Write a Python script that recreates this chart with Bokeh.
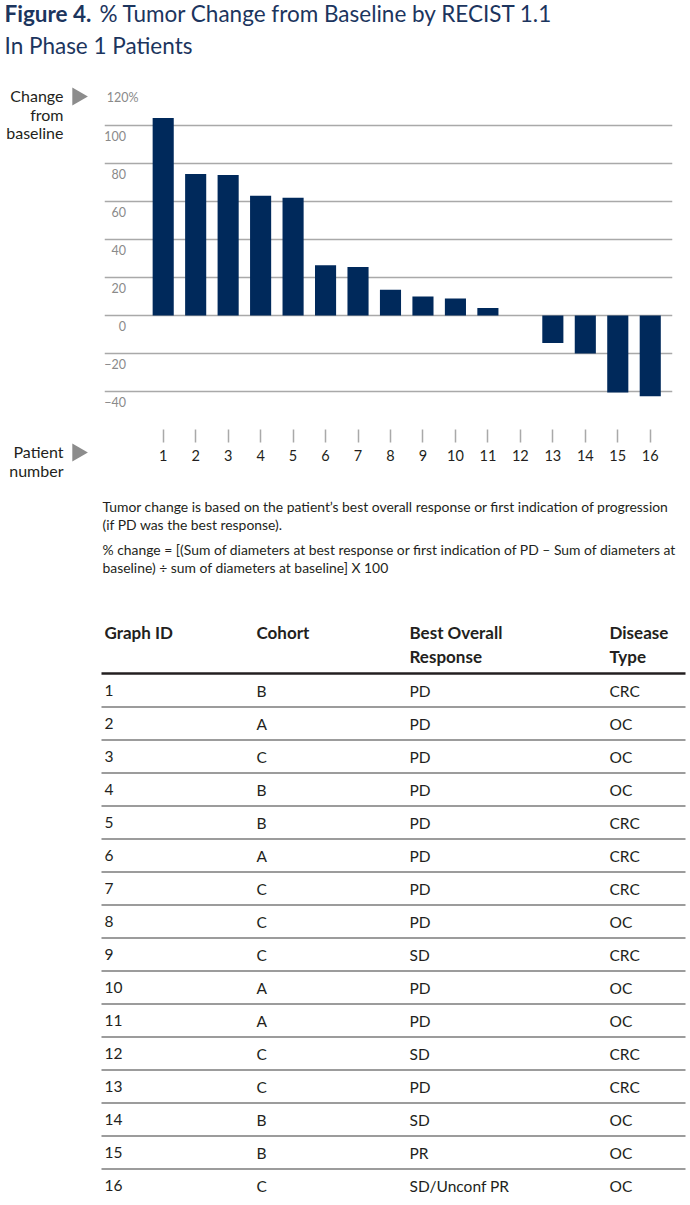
import math
from bokeh.plotting import figure
from bokeh.models import Range1d, FixedTicker, ColumnDataSource
from bokeh.layouts import column, row
from bokeh.embed import file_html
from bokeh.resources import INLINE
from bokeh.core.properties import value

# ---------------- data ----------------
patients = list(range(1, 17))
pct_change = [104, 74.5, 74, 63, 62, 26.5, 25.5, 13.5, 10, 9, 4, 0,
              -14.5, -20, -40.5, -42.5]
grid_values = [-60, -40, -20, 0, 20, 40, 60, 80, 100, 120]
y_label_values = [120, 100, 80, 60, 40, 20, 0, -20, -40]
y_label_texts = ["120%", "100", "80", "60", "40", "20", "0", "\u221220", "\u221240"]

title_bold = "Figure 4."
title_rest = "% Tumor Change from Baseline by RECIST 1.1"
title_line2 = "In Phase 1 Patients"
y_caption = ["Change", "from", "baseline"]
x_caption = ["Patient", "number"]
notes = [
    "Tumor change is based on the patient\u2019s best overall response or first indication of progression",
    "(if PD was the best response).",
    "% change = [(Sum of diameters at best response or first indication of PD \u2013 Sum of diameters at",
    "baseline) \u00f7 sum of diameters at baseline] X 100",
]
table_headers = [["Graph ID"], ["Cohort"], ["Best Overall", "Response"], ["Disease", "Type"]]
graph_ids = [str(i) for i in patients]
cohort = ["B", "A", "C", "B", "B", "A", "C", "C", "C", "A", "A", "C", "C", "B", "B", "C"]
best_response = ["PD", "PD", "PD", "PD", "PD", "PD", "PD", "PD", "SD", "PD", "PD", "SD",
                 "PD", "SD", "PR", "SD/Unconf PR"]
disease_type = ["CRC", "OC", "OC", "OC", "CRC", "CRC", "CRC", "OC", "CRC", "OC", "OC", "CRC",
                "CRC", "OC", "OC", "OC"]

# ---------------- styles ----------------
FONT = "Lato"
NAVY = "#00295b"
TITLE_C = "#1c355e"
TEXT_C = "#231f20"
GRID_C = "#a9a9a9"
TICKLAB_C = "#8a8a8a"
ARROW_C = "#8c8c8c"
PAGE_W = 690
FRAME_TOP, FRAME_BOT = 87, 429     # page y of the chart frame
CHART_TOP, CHART_BOT = 80, 480     # page y of the chart row


def canvas(x0, x1, ytop, ybot):
    p = figure(width=x1 - x0, height=ybot - ytop,
               x_range=Range1d(x0, x1), y_range=Range1d(ybot, ytop),
               x_axis_type=None, y_axis_type=None, min_border=0,
               outline_line_color=None, toolbar_location=None,
               output_backend="svg")
    p.background_fill_color = "white"
    p.border_fill_color = "white"
    return p


def txt(p, x, y, s, size, color=TEXT_C, align="left", baseline="middle", style="normal"):
    p.text(x=[x], y=[y], text=[s], text_font=value(FONT), text_font_size=f"{size}px",
           text_color=color, text_align=align, text_baseline=baseline,
           text_font_style=style)


# ---------------- header ----------------
head = canvas(0, PAGE_W, 0, CHART_TOP)
txt(head, 4, 13, title_bold, 22.5, TITLE_C, style="bold")
txt(head, 99, 13, title_rest, 22.5, TITLE_C)
txt(head, 4, 45, title_line2, 22.5, TITLE_C)

# ---------------- left captions ----------------
left = canvas(0, 104, CHART_TOP, CHART_BOT)
for i, s in enumerate(y_caption):
    txt(left, 63, 95 + i * 18.5, s, 16, align="right")
for i, s in enumerate(x_caption):
    txt(left, 63, 451 + i * 18.5, s, 16, align="right")
left.scatter(x=[77, 77], y=[96, 452], marker="triangle", size=18,
             angle=-math.pi / 2, fill_color=ARROW_C, line_color=None)

# ---------------- bar chart ----------------
frame_w = 568
px_per_unit = 32.47
x_start = 1 - 58.7 / px_per_unit
x_end = x_start + frame_w / px_per_unit

chart = figure(width=PAGE_W - 104, height=CHART_BOT - CHART_TOP,
               x_range=Range1d(x_start, x_end),
               y_range=Range1d(-60, 120), toolbar_location=None,
               output_backend="svg", min_border_left=0,
               min_border_right=PAGE_W - 104 - frame_w,
               min_border_top=FRAME_TOP - CHART_TOP,
               min_border_bottom=CHART_BOT - FRAME_BOT, outline_line_color=None)
chart.background_fill_color = "white"
chart.border_fill_color = "white"
chart.yaxis.visible = False
chart.xgrid.visible = False
chart.ygrid.ticker = FixedTicker(ticks=grid_values)
chart.ygrid.grid_line_color = GRID_C
chart.ygrid.grid_line_width = 1.5

chart.vbar(x=patients, top=pct_change, bottom=0, width=0.65,
           fill_color=NAVY, line_color=None)

xa = chart.xaxis[0]
xa.ticker = FixedTicker(ticks=patients)
xa.axis_line_color = None
xa.major_tick_in = 0
xa.major_tick_out = 13
xa.major_tick_line_color = GRID_C
xa.major_tick_line_width = 1.5
xa.minor_tick_line_color = None
xa.major_label_standoff = 7
xa.major_label_text_font = FONT
xa.major_label_text_font_size = "14.5px"
xa.major_label_text_color = TEXT_C

lab_x = x_start + 21.5 / px_per_unit
lab_src = ColumnDataSource(dict(
    x=[lab_x] * len(y_label_values), y=y_label_values, text=y_label_texts,
    xo=[12.5 if t.endswith("%") else 0 for t in y_label_texts]))
chart.text(x="x", y="y", text="text", x_offset="xo", y_offset=10, source=lab_src,
           text_font=value(FONT), text_font_size="12.5px", text_color=TICKLAB_C,
           text_align="right", text_baseline="middle")

# ---------------- notes ----------------
notes_p = canvas(0, PAGE_W, CHART_BOT, 600)
for s, y in zip(notes, [506, 524, 549, 567]):
    txt(notes_p, 102, y, s, 13.9)

# ---------------- table ----------------
table = canvas(0, PAGE_W, 600, 1203)
col_x = [104, 256, 409, 609]
for cx, hdr in zip(col_x, table_headers):
    for j, s in enumerate(hdr):
        txt(table, cx, 632 + j * 24, s, 17, style="bold")
table.segment(x0=[101], y0=[673], x1=[685], y1=[673], line_color=TEXT_C, line_width=2.5)

row_y = [690 + 33 * i for i in range(len(graph_ids))]
tsrc = ColumnDataSource(dict(y=row_y, gid=graph_ids, coh=cohort, resp=best_response,
                             dis=disease_type))
for cx, field in zip(col_x, ["gid", "coh", "resp", "dis"]):
    table.text(x=cx, y="y", text=field, source=tsrc, text_font=value(FONT),
               text_font_size="15.5px", text_color=TEXT_C, text_align="left",
               text_baseline="middle")
sep_y = [y + 16.5 for y in row_y[:-1]]
table.segment(x0=[101] * len(sep_y), y0=sep_y, x1=[685] * len(sep_y), y1=sep_y,
              line_color="#3a3a3a", line_width=1.2)

layout = column(head, row(column(left), chart), notes_p, table)
open("out.html", "w").write(file_html(layout, INLINE))
